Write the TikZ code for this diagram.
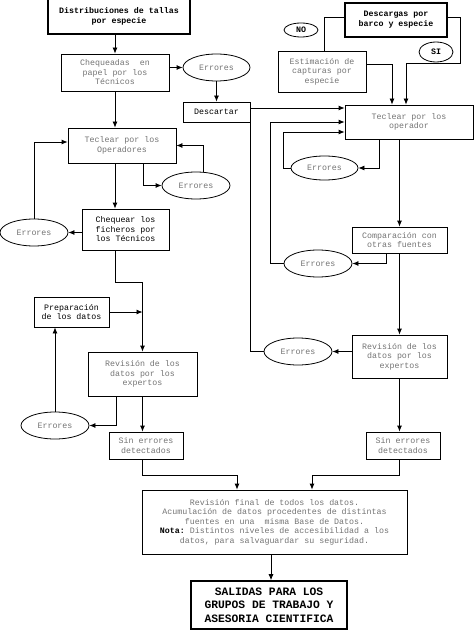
\documentclass[tikz,border=0pt]{standalone}
\usepackage{fontspec}
\setmonofont{Liberation Mono}
\usepackage{tikz}
\usetikzlibrary{arrows.meta,shapes.geometric}

\begin{document}
\begin{tikzpicture}[x=1pt,y=-1pt,line width=0.8pt,
  box/.style={draw,rectangle,inner sep=0pt,align=center,text=black!55,
    font=\ttfamily\fontsize{8.3}{9.5}\selectfont},
  titlebox/.style={box,line width=1.1pt,text=black,
    font=\ttfamily\bfseries\fontsize{8.3}{9.8}\selectfont},
  oval/.style={draw,ellipse,inner sep=0pt,text=black!55,
    font=\ttfamily\fontsize{8.3}{9.5}\selectfont,minimum width=68pt,minimum height=27pt},
  arr/.style={-{Latex[length=6pt,width=5pt]}}]
\useasboundingbox (0,0) rectangle (474,631);
% left column
\node[titlebox,minimum width=142pt,minimum height=36pt] (dist) at (119,16) {Distribuciones de tallas\\por especie};
\node[box,minimum width=108pt,minimum height=37pt] (cheq) at (115,72.5) {Chequeadas~ en\\papel por los\\Técnicos};
\node[oval,minimum width=67pt] (err1) at (216.5,67.5) {Errores};
\node[box,minimum width=67pt,minimum height=20pt,text=black] (desc) at (216.5,112) {Descartar};
\node[box,minimum width=108pt,minimum height=35pt] (tecl1) at (122,145.5) {Teclear por los\\Operadores};
\node[oval] (err2) at (196,185.5) {Errores};
\node[box,minimum width=87pt,minimum height=41pt,text=black] (cheqf) at (125.5,229.5) {Chequear los\\ficheros por\\los Técnicos};
\node[oval] (err3) at (34,232.5) {Errores};
\node[box,minimum width=75pt,minimum height=30pt,text=black] (prep) at (71.5,312) {Preparación\\de los datos};
\node[box,minimum width=109pt,minimum height=44pt] (rev1) at (142.5,374) {Revisión de los\\datos por los\\expertos};
\node[oval] (err4) at (55,425.5) {Errores};
\node[box,minimum width=74pt,minimum height=27pt] (sin1) at (146,445.5) {Sin errores\\detectados};
% right column
\node[titlebox,minimum width=102pt,minimum height=34pt] (desca) at (396,20) {Descargas por\\barco y especie};
\node[oval,minimum width=34pt,minimum height=14pt,text=black,font=\ttfamily\bfseries\fontsize{8.3}{9.5}\selectfont] (no) at (301,30) {NO};
\node[oval,minimum width=34pt,minimum height=20pt,text=black,font=\ttfamily\bfseries\fontsize{8.3}{9.5}\selectfont] (si) at (436,52) {SI};
\node[box,minimum width=88pt,minimum height=41pt] (estim) at (322,71.5) {Estimación de\\capturas por\\especie};
\node[box,minimum width=128pt,minimum height=34pt] (tecl2) at (409,122) {Teclear por los\\operador};
\node[oval,minimum width=67pt,minimum height=24pt] (err5) at (324.5,168) {Errores};
\node[box,minimum width=95pt,minimum height=26pt] (comp) at (399.5,240) {Comparación con\\otras fuentes};
\node[oval] (err6) at (318,263.5) {Errores};
\node[box,minimum width=95pt,minimum height=43pt] (rev2) at (399.5,356.5) {Revisión de los\\datos por los\\expertos};
\node[oval] (err7) at (298,351.5) {Errores};
\node[box,minimum width=74pt,minimum height=27pt] (sin2) at (403,445.5) {Sin errores\\detectados};
% bottom
\node[box,minimum width=265pt,minimum height=64pt] (final) at (274.5,522) {Revisión final de todos los datos.\\Acumulación de datos procedentes de distintas\\fuentes en una~ misma Base de Datos.\\{\color{black}\bfseries Nota:} Distintos niveles de accesibilidad a los\\datos, para salvaguardar su seguridad.};
\node[titlebox,line width=1.6pt,minimum width=156pt,minimum height=48pt,font=\ttfamily\bfseries\fontsize{11.3}{13.5}\selectfont] (sal) at (269,605) {SALIDAS PARA LOS\\GRUPOS DE TRABAJO Y\\ASESORIA CIENTIFICA};
\coordinate (m1) at (237,475);
\coordinate (m2) at (312,475);
\coordinate (r1) at (460,63);
% left connectors
\draw[arr] (cheq.north |- dist.south) -- (cheq.north);
\draw[arr] (cheq.east |- err1.west) -- (err1.west);
\draw[arr] (err1.south) -- (desc.north);
\draw[arr] (cheq.south) -- (cheq.south |- tecl1.north);
\draw[arr] ([xshift=21pt]tecl1.south) |- (err2.west);
\draw[arr] ([xshift=7pt]err2.north) |- (tecl1.east);
\draw[arr] (cheq.south |- tecl1.south) -- (cheq.south |- cheqf.north);
\draw[arr] (cheqf.west |- err3.east) -- (err3.east);
\draw[arr] (err3.north) |- ([yshift=3.5pt]tecl1.west);
\draw[arr] (cheq.south |- cheqf.south) -- (115,282) -| (rev1.north);
\draw[arr] (prep.east) -- (prep.east -| rev1.north);
\draw[arr] ([xshift=-26.5pt]rev1.south) |- (err4.east);
\draw[arr] (err4.north) -- (err4.north |- prep.south);
\draw[arr] (rev1.south) -- (rev1.south |- sin1.north);
\draw[arr] (rev1.south |- sin1.south) |- (m1) -- (m1 |- final.north);
% right connectors
\draw ([yshift=3pt]desca.west) -| ([xshift=2pt]estim.north);
\draw[arr] ([yshift=3pt]desca.east) -| (r1) -| ([xshift=-3pt]tecl2.north);
\draw[arr] ([yshift=7.5pt]estim.east) -| ([xshift=-17pt]tecl2.north);
\draw[arr] ([xshift=-30pt]tecl2.south) |- (err5.east);
\draw[arr] (err5.west) -- ++(-7,0) |- ([yshift=-10pt]tecl2.west);
\draw[arr] (tecl2.south -| comp.north) -- (comp.north);
\draw[arr] ([xshift=-13.5pt]comp.south) |- (err6.east);
\draw[arr] (err6.west) -- ++(-13,0) |- (tecl2.west);
\draw[arr] (comp.south) -- (rev2.north);
\draw[arr] (rev2.west |- err7.east) -- (err7.east);
\draw[arr] (err7.west) -- ++(-13,0) |- ([yshift=14pt]tecl2.west);
\draw[arr] (rev2.south) -- (rev2.south |- sin2.north);
\draw[arr] (rev2.south |- sin2.south) |- (m2) -- (m2 |- final.north);
% end
\draw[arr] (final.south -| 271,0) -- (271,0 |- sal.north);
\end{tikzpicture}
\end{document}
